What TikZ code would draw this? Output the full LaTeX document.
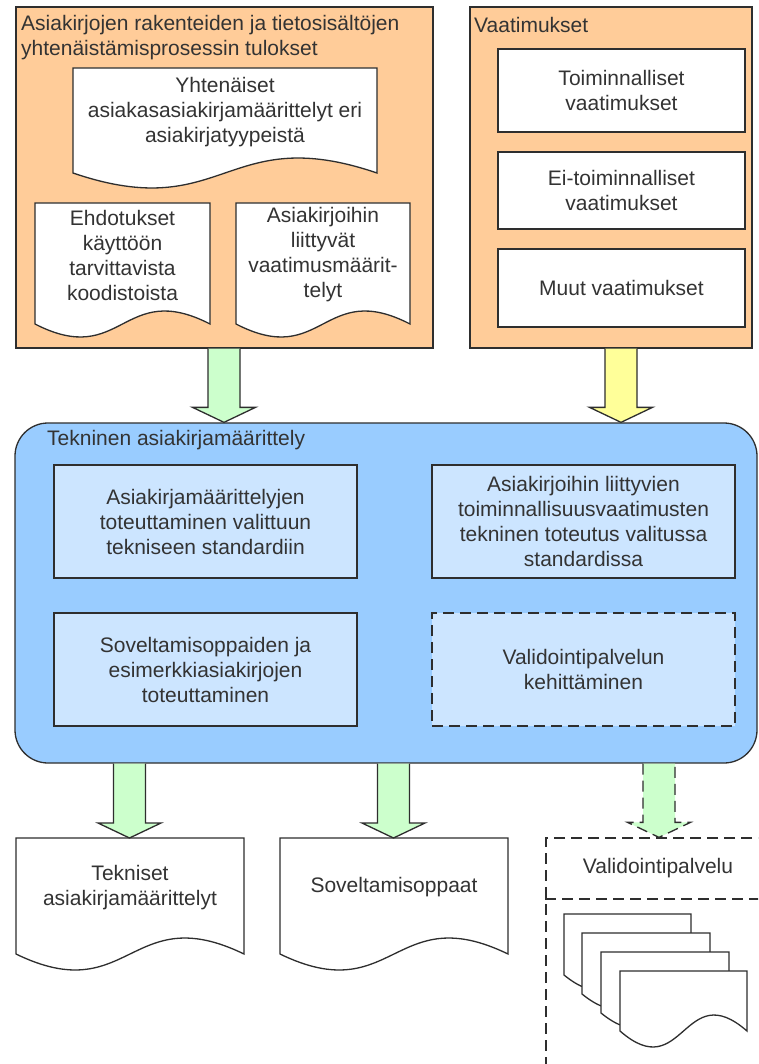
\documentclass[tikz,border=0pt]{standalone}
\usepackage{fontspec}
\setmainfont{Liberation Sans}
\usetikzlibrary{calc}
\definecolor{orangefill}{HTML}{FFCC99}
\definecolor{bluefill}{HTML}{99CCFF}
\definecolor{innerblue}{HTML}{CCE5FF}
\definecolor{greenfill}{HTML}{CCFFCC}
\definecolor{yellowfill}{HTML}{FFFF99}
\definecolor{linec}{HTML}{2E2E2E}
\definecolor{txt}{HTML}{333333}
\tikzset{
  every node/.style={font=\fontsize{21}{25}\selectfont, text=txt},
  panel/.style={draw=linec, line width=1.3pt, fill=orangefill, rectangle, inner sep=0pt},
  whitebox/.style={draw=linec, line width=1.3pt, fill=white, rectangle, inner sep=0pt, align=center},
  bluebox/.style={draw=linec, line width=1.3pt, fill=bluefill, rectangle, rounded corners=33pt, inner sep=0pt},
  innerbox/.style={draw=linec, line width=1.3pt, fill=innerblue, rectangle, inner sep=0pt, align=center},
  dashbox/.style={dash pattern=on 11pt off 6pt},
  titletext/.style={anchor=west, align=left, inner sep=0pt},
  doctext/.style={align=center, inner sep=0pt},
  docline/.style={draw=linec, line width=1.3pt, fill=white, line join=miter},
  garrow/.style={draw=linec, line width=1.3pt, fill=greenfill, line join=miter},
  yarrow/.style={draw=linec, line width=1.3pt, fill=yellowfill, line join=miter},
}
\newcommand{\docshape}[6]{%
  \coordinate (#1) at ({(#2+#4)/2},#3);
  \draw[docline] (#2,#3) -- (#4,#3) -- (#4,#5)
    .. controls ({(#2+#4)/2},{#5-3.46*#6}) and ({(#2+#4)/2},{#5+3.46*#6}) .. (#2,#5) -- cycle;
}
\newcommand{\fatarrow}[3]{%
  \draw[#1] let \p1=(#2), \p2=(#3) in
    (\x1-16pt,\y1) -- (\x1-16pt,\y2+15pt) -- (\x1-31.5pt,\y2+15pt) -- (\x1,\y2)
    -- (\x1+31.5pt,\y2+15pt) -- (\x1+16pt,\y2+15pt) -- (\x1+16pt,\y1);
}
\begin{document}
\begin{tikzpicture}[x=1pt,y=-1pt]
\clip (0,0) rectangle (758,1064);
\fill[white] (0,0) rectangle (758,1064);

% ---------- top left panel ----------
\node[panel, minimum width=417pt, minimum height=341pt] (res) at (224.5,177.5) {};
\node[titletext] (restitle) at (21,37.5) {Asiakirjojen rakenteiden ja tietosisältöjen\\yhtenäistämisprosessin tulokset};
\docshape{docA}{73}{68}{377}{173}{15}
\node[doctext] (yht) at (225,112) {Yhtenäiset\\asiakasasiakirjamäärittelyt eri\\asiakirjatyypeistä};
\docshape{docB}{35}{203}{210}{324}{13}
\node[doctext] (ehd) at (122.5,255) {Ehdotukset\\käyttöön\\tarvittavista\\koodistoista};
\docshape{docC}{236}{203}{410}{324}{13}
\node[doctext] (liit) at (323,255) {Asiakirjoihin\\liittyvät\\vaatimusmäärit-\\telyt};

% ---------- top right panel ----------
\node[panel, minimum width=282pt, minimum height=341pt] (vaat) at (611,177.5) {};
\node[titletext] (vaattitle) at (474,25) {Vaatimukset};
\node[whitebox, minimum width=247pt, minimum height=83pt] (r1) at (621.5,90.5) {Toiminnalliset\\vaatimukset};
\node[whitebox, minimum width=247pt, minimum height=77pt] (r2) at (621.5,190.5) {Ei-toiminnalliset\\vaatimukset};
\node[whitebox, minimum width=247pt, minimum height=78pt] (r3) at (621.5,288) {Muut vaatimukset};

% ---------- blue panel ----------
\node[bluebox, minimum width=742pt, minimum height=340pt] (tek) at (386,593) {};
\node[titletext] (tektitle) at (47,440) {Tekninen asiakirjamäärittely};
\node[innerbox, minimum width=303pt, minimum height=113pt] (b1) at (205.5,521.5) {Asiakirjamäärittelyjen\\toteuttaminen valittuun\\tekniseen standardiin};
\node[innerbox, minimum width=303pt, minimum height=113pt] (b2) at (583.5,521.5) {Asiakirjoihin liittyvien\\toiminnallisuusvaatimusten\\tekninen toteutus valitussa\\standardissa};
\node[innerbox, minimum width=303pt, minimum height=113pt] (b3) at (205.5,669.5) {Soveltamisoppaiden ja\\esimerkkiasiakirjojen\\toteuttaminen};
\node[innerbox, dashbox, minimum width=303pt, minimum height=113pt] (b4) at (583.5,669.5) {Validointipalvelun\\kehittäminen};

% ---------- arrows into blue panel ----------
\coordinate (ax1) at (224,0);
\coordinate (ax2) at (621,0);
\fatarrow{garrow}{res.south -| ax1}{tek.north -| ax1}
\fatarrow{yarrow}{vaat.south -| ax2}{tek.north -| ax2}

% ---------- bottom outputs ----------
\docshape{d1}{16}{838}{244}{954}{16}
\node[doctext] (d1t) at (130,888) {Tekniset\\asiakirjamäärittelyt};
\docshape{d2}{280}{838}{508}{954}{16}
\node[doctext] (d2t) at (394,887) {Soveltamisoppaat};

\node[draw=linec, line width=1.3pt, dashbox, rectangle, inner sep=0pt, minimum width=244pt, minimum height=262pt] (vbox) at (668,969) {};
\draw[linec, line width=1.3pt, dashbox] (vbox.west |- 0,899) -- (vbox.east |- 0,899);
\node[doctext] (vpt) at (658,868) {Validointipalvelu};
\docshape{s1}{564}{914}{691}{975}{15}
\docshape{s2}{582}{933}{710}{994}{15}
\docshape{s3}{601}{952}{729}{1013}{15}
\docshape{s4}{620}{971}{747}{1031}{16}

\coordinate (bx1) at (129.5,0);
\coordinate (bx2) at (393.5,0);
\coordinate (bx3) at (659,0);
\fatarrow{garrow}{tek.south -| bx1}{d1 -| bx1}
\fatarrow{garrow}{tek.south -| bx2}{d2 -| bx2}
\fatarrow{garrow, dashbox}{tek.south -| bx3}{vbox.north -| bx3}
\end{tikzpicture}
\end{document}
